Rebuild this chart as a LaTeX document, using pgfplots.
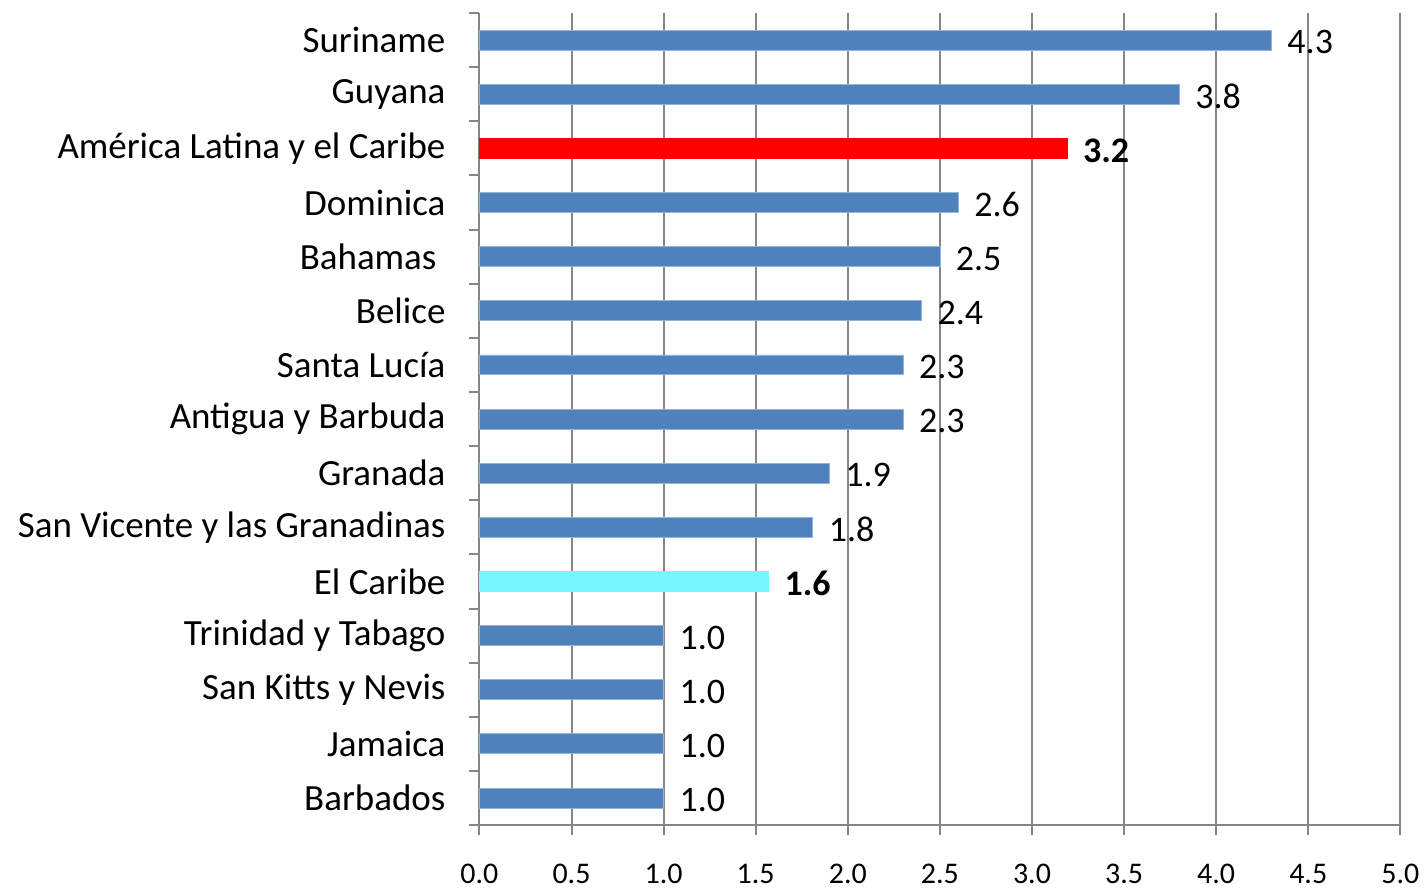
\documentclass[border=0pt]{standalone}
\usepackage{pgfplots}
\pgfplotsset{compat=1.18}
\usepackage{fontspec}
\setmainfont{Carlito}
\definecolor{barblue}{HTML}{4F81BD}
\definecolor{barred}{HTML}{FF0000}
\definecolor{barcyan}{HTML}{75F7FD}
\definecolor{gridgray}{HTML}{868686}
\begin{document}
\begin{tikzpicture}
\begin{axis}[
  scale only axis, width=461pt, height=406.5pt,
  xbar, bar width=10pt,
  xmin=0, xmax=5, ymin=-0.5, ymax=14.5,
  clip=false,
  axis x line*=bottom, axis y line*=left,
  axis line style={gridgray, line width=1pt},
  tick style={gridgray, line width=1pt},
  tick align=outside, major tick length=5pt,
  xmajorgrids, grid style={gridgray, line width=1pt},
  xtick={0,0.5,1,1.5,2,2.5,3,3.5,4,4.5,5},
  /pgf/number format/fixed, /pgf/number format/fixed zerofill,
  /pgf/number format/precision=1, /pgf/number format/assume math mode=true,
  xticklabel style={font=\fontsize{15}{18}\selectfont, yshift=-11pt},
  ytick={-0.5,0.5,1.5,2.5,3.5,4.5,5.5,6.5,7.5,8.5,9.5,10.5,11.5,12.5,13.5},
  yticklabels={Barbados, Jamaica, San Kitts y Nevis, Trinidad y Tabago, El Caribe, San Vicente y las Granadinas, Granada, Antigua y Barbuda, Santa Lucía, Belice, Bahamas\hspace*{4.5pt}, Dominica, América Latina y el Caribe, Guyana, Suriname},
  yticklabel style={font=\fontsize{18.5}{22}\selectfont, anchor=east, yshift=13.55pt, xshift=-8.5pt},
  extra y ticks={14.5}, extra y tick labels={},
  extra y tick style={yticklabel style={yshift=-13.55pt, font=\tiny, inner sep=0pt}},
  point meta=x,
  nodes near coords,
  nodes near coords style={anchor=west, xshift=4.5pt, yshift=-1pt, font=\fontsize{18}{21}\selectfont, text=black},
]
\addplot[fill=barblue, draw=barblue!60!white, bar shift=0pt] coordinates {
(1,0) (1,1) (1,2) (1,3) (1.81,5) (1.9,6) (2.3,7) (2.3,8) (2.4,9) (2.5,10) (2.6,11) (3.8,13) (4.3,14)};
\addplot[fill=barcyan, draw=barcyan, bar shift=0pt, nodes near coords style={font=\fontsize{18}{21}\selectfont\bfseries}] coordinates {(1.57,4)};
\addplot[fill=barred, draw=barred, bar shift=0pt, nodes near coords style={font=\fontsize{18}{21}\selectfont\bfseries}] coordinates {(3.19,12)};
\path (axis cs:-2.603,-1.589) rectangle (axis cs:5.13,14.74);
\end{axis}
\end{tikzpicture}
\end{document}
